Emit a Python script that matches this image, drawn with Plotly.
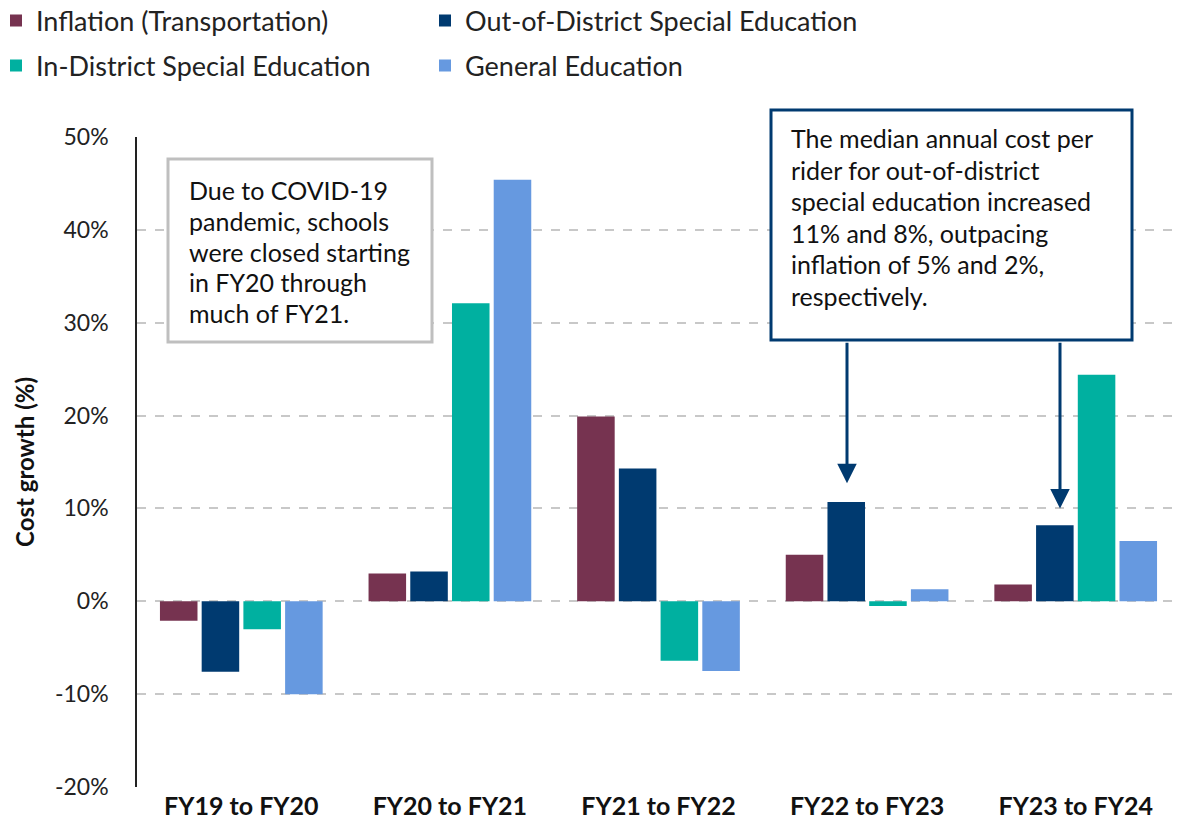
import plotly.graph_objects as go

categories = ["FY19 to FY20", "FY20 to FY21", "FY21 to FY22", "FY22 to FY23", "FY23 to FY24"]
inflation = [-2.1, 3.0, 19.9, 5.0, 1.8]
out_district = [-7.6, 3.2, 14.3, 10.7, 8.2]
in_district = [-3.0, 32.1, -6.4, -0.5, 24.4]
general_ed = [-10.0, 45.4, -7.5, 1.3, 6.5]

series_names = ["Inflation (Transportation)", "Out-of-District Special Education",
                "In-District Special Education", "General Education"]
series_values = [inflation, out_district, in_district, general_ed]
colors = ["#763350", "#003A70", "#00B0A0", "#6699E0"]
legend_ids = ["legend2", "legend3", "legend4", "legend5"]

y_ticks = [-20, -10, 0, 10, 20, 30, 40, 50]
y_ticktext = [f"{t}%" for t in y_ticks]

note1_lines = ["Due to COVID-19", "pandemic, schools", "were closed starting",
               "in FY20 through", "much of FY21."]
note2_lines = ["The median annual cost per", "rider for out-of-district",
               "special education increased", "11% and 8%, outpacing",
               "inflation of 5% and 2%,", "respectively."]

TXT = "Lato"
# page body has an 8px margin; figure sized so that the screenshot matches 1186x829
OFF = 8
W, H = 1186 - OFF, 829 - OFF
L, R, T, B = 137 - OFF, 6, 137 - OFF, 42
PW, PH = W - L - R, H - T - B


def px(x):  # screen x -> paper
    return (x - 137) / PW


def py(y):  # screen y -> paper
    return (787 - y) / PH


fig = go.Figure()
for name, vals, c, lg in zip(series_names, series_values, colors, legend_ids):
    fig.add_trace(go.Bar(x=categories, y=vals, name=name, legend=lg,
                         marker=dict(color=c, line=dict(width=0))))

legend_common = dict(orientation="h", xanchor="left", yanchor="middle",
                     font=dict(family=TXT, size=27, color="#222"), itemwidth=30,
                     bgcolor="rgba(0,0,0,0)")
leg_pos = [(14, 21), (443, 21), (14, 66), (443, 66)]
legends = {}
for lg, (sx, sy) in zip(legend_ids, leg_pos):
    legends[lg] = dict(x=px(sx - 18), y=py(sy), **legend_common)

fig.update_layout(
    width=W, height=H,
    barmode="group", bargap=0.2, bargroupgap=0.1,
    plot_bgcolor="white", paper_bgcolor="white",
    margin=dict(l=L, r=R, t=T, b=B, autoexpand=False),
    font=dict(family=TXT),
    **legends,
)
fig.update_yaxes(range=[-20, 50], tickvals=y_ticks, ticktext=y_ticktext,
                 tickfont=dict(family=TXT, size=23, color="#222"),
                 showgrid=True, gridcolor="#c8c8c8", griddash="dash", gridwidth=1.5,
                 zeroline=False, showline=True, linecolor="#222", linewidth=1.5,
                 ticks="", ticklabelstandoff=22,
                 title=dict(text="<b>Cost growth (%)</b>", font=dict(family=TXT, size=24, color="#111"), standoff=14))
fig.update_xaxes(showline=False, ticks="", tickfont=dict(family=TXT, size=25, color="#111"),
                 ticktext=[f"<b>{c}</b>" for c in categories], tickvals=categories,
                 ticklabelstandoff=2)

# Box 1 (gray)
fig.add_shape(type="rect", xref="paper", yref="paper", x0=px(168), x1=px(432), y0=py(342), y1=py(159),
              line=dict(color="#BFBFBF", width=3), fillcolor="white", layer="above")
for i, line in enumerate(note1_lines):
    fig.add_annotation(xref="paper", yref="paper", x=px(187), y=py(190 + 30.8 * i),
                       xanchor="left", yanchor="middle", showarrow=False, text=line,
                       font=dict(family=TXT, size=25, color="#111"))

# Box 2 (navy)
fig.add_shape(type="rect", xref="paper", yref="paper", x0=px(771), x1=px(1132), y0=py(340), y1=py(110),
              line=dict(color="#003A70", width=3), fillcolor="white", layer="above")
for i, line in enumerate(note2_lines):
    fig.add_annotation(xref="paper", yref="paper", x=px(789), y=py(138 + 31.6 * i),
                       xanchor="left", yanchor="middle", showarrow=False, text=line,
                       font=dict(family=TXT, size=25, color="#111"))

for xp, ytip in [(px(847), 12.7), (px(1060), 10.0)]:
    fig.add_annotation(xref="paper", yref="y", x=xp, y=ytip, ax=0, ay=28.0,
                       axref="pixel", ayref="y", showarrow=True, arrowhead=2,
                       arrowsize=1.3, arrowwidth=3, arrowcolor="#003A70", text="")

fig.write_html("out.html")
